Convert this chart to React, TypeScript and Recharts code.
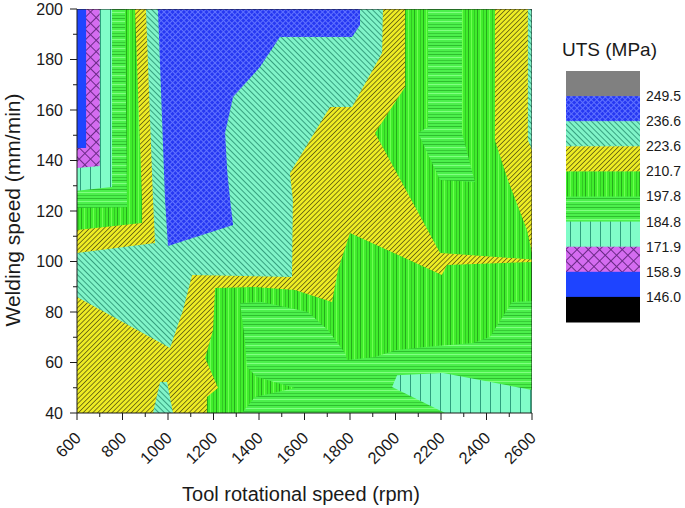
import React from "react";
import { Scatter, ScatterChart, XAxis, YAxis } from "recharts";

// axis ticks (every 100 rpm / 10 mm/min, labels on majors only)
const xTicks = [600, 700, 800, 900, 1000, 1100, 1200, 1300, 1400, 1500, 1600, 1700, 1800, 1900, 2000, 2100, 2200, 2300, 2400, 2500, 2600];
const yTicks = [40, 50, 60, 70, 80, 90, 100, 110, 120, 130, 140, 150, 160, 170, 180, 190, 200];

// legend levels (MPa), top to bottom
const utsLevels = ["249.5", "236.6", "223.6", "210.7", "197.8", "184.8", "171.9", "158.9", "146.0"];

// contour bands, [rpm, mm/min]
const frame = [[600, 40], [600, 200], [2600, 200], [2600, 40]];
const yellowBase = [[600, 40], [600, 200], [2600, 200], [2600, 40]];
const greenVLeft = [[600, 200], [855, 200], [886, 124.4], [886, 115.2], [600, 112.5]];
const greenHLeft = [[600, 200], [811, 200], [820, 121.5], [600, 121.2]];
const mintVLeft = [[600, 200], [754, 200], [754, 129.5], [600, 128]];
const violetLeft = [[600, 200], [700, 200], [700, 137.8], [600, 137]];
const blueLeft = [[600, 200], [640, 200], [640, 145], [600, 145]];
const mintBig = [
  [903, 200], [1945, 200], [1941, 182.6], [1809, 161.2], [1712, 161.2], [1536, 135], [1549, 124.4],
  [1545, 93.9], [1106, 94.7], [1066, 80.8], [1009, 65.7], [600, 85.9], [600, 103.4], [943, 107.3], [934, 124.4],
];
const blueTop = [
  [956, 200], [1844, 200], [1844, 193.7], [1809, 188.9], [1492, 188.9], [1404, 177], [1286, 165.1],
  [1251, 150.9], [1260, 136], [1273, 124.4], [1286, 114.5], [1000, 106.1], [987, 124.4],
];
const mintRight = [[2582, 200], [2600, 200], [2600, 144.2], [2582, 148.1]];
const greenVTop = [
  [2042, 200], [2437, 200], [2437, 148], [2494, 132.3], [2578, 112.5], [2600, 103.4], [2600, 100.8],
  [2196, 103.4], [1910, 150.9], [2042, 169.1],
];
const greenHTop = [[2143, 200], [2292, 200], [2292, 150.9], [2349, 131.5], [2196, 132.3], [2099, 150.9], [2143, 153.3]];
const greenVLow = [
  [1207, 89.5], [1382, 89.9], [1558, 88.7], [1721, 84], [1747, 96.6], [1800, 111.3], [2204, 94.7],
  [2226, 98.6], [2600, 99.8], [2600, 40], [1171, 40], [1171, 46.3], [1220, 49.9], [1163, 61.8], [1198, 72.9],
];
const greenHLow = [
  [1317, 83.6], [1413, 84], [1615, 80], [1703, 72.9], [1778, 63.8], [1787, 61], [1910, 62.2], [1998, 64.9],
  [2130, 66.1], [2341, 67.7], [2415, 70.1], [2512, 84], [2600, 84.4], [2600, 40], [1325, 40], [1382, 46.3],
  [1558, 49.9], [1391, 54.3], [1347, 58.2], [1338, 68.9],
];
const mintVBottom = [[1985, 50.3], [2007, 55], [2209, 55.8], [2600, 49.1], [2600, 40], [2218, 40]];
const mintSmall = [[965, 52.3], [996, 52.3], [1022, 40], [934, 40]];

const FONT = "'Liberation Sans', Arial, sans-serif";
const INK = "#1a1a1a";

const legendFills = ["#808080", "url(#pBlueX)", "url(#pMint)", "url(#pYellow)", "url(#pGreenV)", "url(#pGreenH)", "url(#pMintV)", "url(#pViolet)", "#1e44ff", "#000"];

const regions = [
  { pts: yellowBase, fill: "url(#pYellow)" },
  { pts: greenVLeft, fill: "url(#pGreenV)" },
  { pts: greenHLeft, fill: "url(#pGreenH)" },
  { pts: mintVLeft, fill: "url(#pMintV)" },
  { pts: violetLeft, fill: "url(#pViolet)" },
  { pts: blueLeft, fill: "#1e44ff" },
  { pts: mintBig, fill: "url(#pMint)" },
  { pts: blueTop, fill: "url(#pBlueX)" },
  { pts: mintRight, fill: "url(#pMint)" },
  { pts: greenVTop, fill: "url(#pGreenV)" },
  { pts: greenHTop, fill: "url(#pGreenH)" },
  { pts: greenVLow, fill: "url(#pGreenV)" },
  { pts: greenHLow, fill: "url(#pGreenH)" },
  { pts: mintVBottom, fill: "url(#pMintV)" },
  { pts: mintSmall, fill: "url(#pMint)" },
];

const toPts = (arr: number[][]) => arr.map(([x, y]) => ({ x, y }));

const toPath = (points: { x: number; y: number }[]) =>
  points.map((p, i) => `${i ? "L" : "M"}${p.x},${p.y}`).join(" ") + " Z";

const polygon = (fill: string, stroke = "none") => (p: any) =>
  <path d={toPath(p.points)} fill={fill} stroke={stroke} strokeWidth={1} />;

const noShape = () => <g />;

function XTick(props: any) {
  const { x, y, payload } = props;
  const major = payload.value % 200 === 0;
  const ax = x + 5;
  const ay = y + 26;
  return (
    <g>
      <line x1={x} y1={y} x2={x} y2={y + (major ? 7 : 4)} stroke={INK} />
      {major && (
        <text
          x={ax}
          y={ay}
          transform={`rotate(-45 ${ax} ${ay})`}
          textAnchor="end"
          fontSize={16.5}
          fontFamily={FONT}
          fill={INK}
        >
          {payload.value}
        </text>
      )}
    </g>
  );
}

function YTick(props: any) {
  const { x, y, payload } = props;
  const major = payload.value % 20 === 0;
  return (
    <g>
      <line x1={x} y1={y} x2={x - (major ? 7 : 4)} y2={y} stroke={INK} />
      {major && (
        <text x={x - 14} y={y + 5.5} textAnchor="end" fontSize={16} fontFamily={FONT} fill={INK}>
          {payload.value}
        </text>
      )}
    </g>
  );
}

function Patterns() {
  return (
    <svg width={0} height={0} style={{ position: "absolute" }}>
      <defs>
        <pattern id="pYellow" patternUnits="userSpaceOnUse" width={3.4} height={3.4} patternTransform="rotate(45)">
          <rect width={3.4} height={3.4} fill="#eeec24" />
          <rect width={0.8} height={3.4} fill="#5e5c10" />
        </pattern>
        <pattern id="pMint" patternUnits="userSpaceOnUse" width={4} height={4} patternTransform="rotate(-45)">
          <rect width={4} height={4} fill="#80f4c8" />
          <rect width={0.9} height={4} fill="#2e9878" />
        </pattern>
        <pattern id="pBlueX" patternUnits="userSpaceOnUse" width={4} height={4} patternTransform="rotate(45)">
          <rect width={4} height={4} fill="#2638f2" />
          <rect width={1} height={4} fill="#6072ff" />
          <rect width={4} height={1} fill="#6072ff" />
        </pattern>
        <pattern id="pGreenV" patternUnits="userSpaceOnUse" width={9} height={9}>
          <rect width={9} height={9} fill="#40ee2c" />
          <rect x={0} width={1} height={9} fill="#26ac1c" />
          <rect x={3} width={1} height={9} fill="#6cff50" />
          <rect x={6} width={1} height={9} fill="#32c824" />
        </pattern>
        <pattern id="pGreenH" patternUnits="userSpaceOnUse" width={9} height={9}>
          <rect width={9} height={9} fill="#4cf04c" />
          <rect y={0} width={9} height={1} fill="#2ebe2e" />
          <rect y={3} width={9} height={1} fill="#80ff80" />
          <rect y={6} width={9} height={1} fill="#36cc36" />
        </pattern>
        <pattern id="pMintV" patternUnits="userSpaceOnUse" width={10} height={10}>
          <rect width={10} height={10} fill="#80fcc8" />
          <rect width={1} height={10} fill="#2e9e7c" />
        </pattern>
        <pattern id="pViolet" patternUnits="userSpaceOnUse" width={8} height={8} patternTransform="rotate(45)">
          <rect width={8} height={8} fill="#d46cf0" />
          <rect width={1} height={8} fill="#6a2a86" />
          <rect width={8} height={1} fill="#6a2a86" />
        </pattern>
      </defs>
    </svg>
  );
}

export default function App() {
  return (
    <div style={{ position: "absolute", left: 0, top: 0, width: 685, height: 508, background: "#fff" }}>
      <Patterns />
      <ScatterChart width={685} height={508} margin={{ top: 9, right: 153, bottom: 0, left: 0 }}>
        <XAxis
          type="number"
          dataKey="x"
          domain={[600, 2600]}
          ticks={xTicks}
          interval={0}
          height={95}
          tickSize={0}
          tickMargin={0}
          tick={(p: any) => <XTick {...p} />}
          axisLine={{ stroke: INK }}
          allowDataOverflow
        />
        <YAxis
          type="number"
          dataKey="y"
          domain={[40, 200]}
          ticks={yTicks}
          interval={0}
          width={77}
          tickSize={0}
          tickMargin={0}
          tick={(p: any) => <YTick {...p} />}
          axisLine={{ stroke: INK }}
          allowDataOverflow
        />
        {regions.map((r, i) => (
          <Scatter
            key={i}
            data={toPts(r.pts)}
            fill="none"
            line={polygon(r.fill)}
            lineType="joint"
            shape={noShape}
            isAnimationActive={false}
          />
        ))}
        <Scatter
          data={toPts(frame)}
          fill="none"
          line={polygon("none", INK)}
          lineType="joint"
          shape={noShape}
          isAnimationActive={false}
        />
      </ScatterChart>
      <svg width={685} height={508} style={{ position: "absolute", left: 0, top: 0, pointerEvents: "none" }}>
        <text
          x={20}
          y={210}
          transform="rotate(-90 20 210)"
          textAnchor="middle"
          fontSize={21}
          fontFamily={FONT}
          fill={INK}
        >
          Welding speed (mm/min)
        </text>
        <text x={301} y={501} textAnchor="middle" fontSize={20} fontFamily={FONT} fill={INK}>
          Tool rotational speed (rpm)
        </text>
        <text x={562} y={56} fontSize={19} fontFamily={FONT} fill={INK}>
          UTS (MPa)
        </text>
        {legendFills.map((f, i) => (
          <rect key={f} x={566} y={71 + i * 25.1} width={74} height={25.6} fill={f} />
        ))}
        {utsLevels.map((v, i) => (
          <text key={v} x={646} y={101 + i * 25.1} fontSize={14} fontFamily={FONT} fill={INK}>
            {v}
          </text>
        ))}
      </svg>
    </div>
  );
}
